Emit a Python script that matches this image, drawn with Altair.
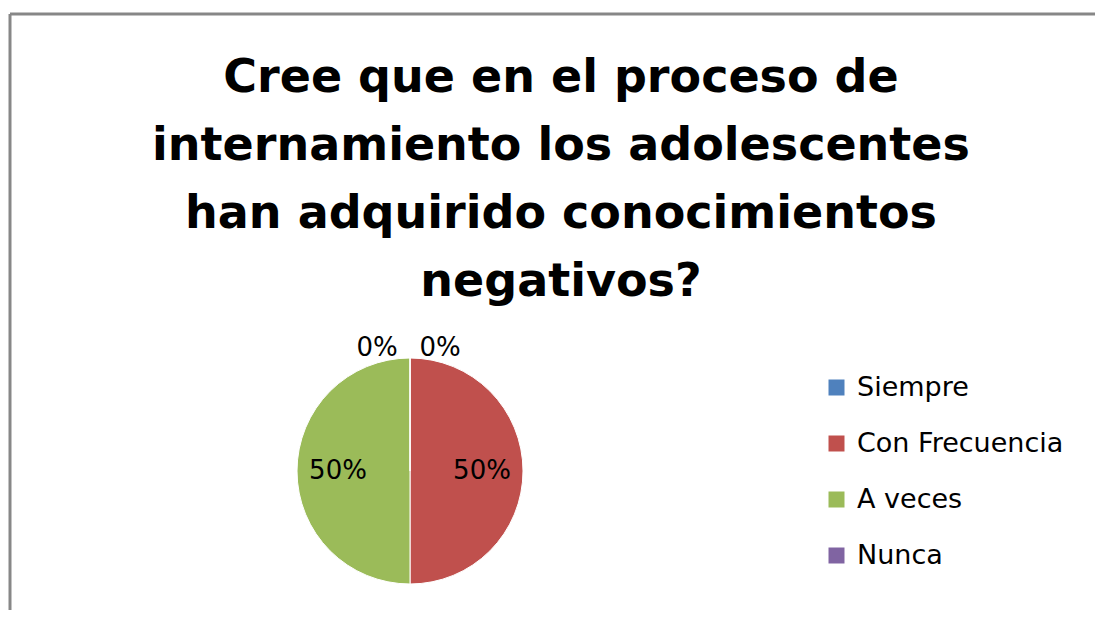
import altair as alt
import pandas as pd

categorias = ["Siempre", "Con Frecuencia", "A veces", "Nunca"]
valores = [0.0, 0.5, 0.5, 0.0]
orden = [1, 2, 3, 4]
colores = ["#4F81BD", "#C0504D", "#9BBB59", "#8064A2"]
titulo = [
    "Cree que en el proceso de",
    "internamiento los adolescentes",
    "han adquirido conocimientos",
    "negativos?",
]

df = pd.DataFrame({"categoria": categorias, "valor": valores, "orden": orden})
FONT = "DejaVu Sans"
CX, CY, R = 402, 463, 113

base = alt.Chart(df)

theta = alt.Theta("valor:Q", stack=True)
order = alt.Order("orden:Q")

pie = base.mark_arc(radius=R, stroke="white", strokeWidth=1).encode(
    theta=theta,
    order=order,
    color=alt.Color(
        "categoria:N",
        sort=None,
        scale=alt.Scale(domain=categorias, range=colores),
        legend=alt.Legend(
            title=None,
            orient="none",
            legendX=815,
            legendY=366,
            symbolType="square",
            symbolSize=256,
            symbolStrokeWidth=0,
            labelFontSize=27,
            labelFont=FONT,
            labelColor="#000000",
            labelOffset=7,
            labelLimit=400,
            rowPadding=28,
            padding=0,
        ),
    ),
    x=alt.value(CX),
    y=alt.value(CY),
)

lbl_main = base.transform_filter("datum.valor > 0").mark_text(
    radius=72, fontSize=26, font=FONT, color="#000000", align="center", baseline="middle"
).encode(
    theta=theta, order=order,
    text=alt.Text("valor:Q", format=".0%"),
    x=alt.value(CX), y=alt.value(CY),
)

lbl_siempre = base.transform_filter("datum.categoria == 'Siempre'").mark_text(
    radius=123, dx=30, fontSize=26, font=FONT, color="#000000", align="center", baseline="middle"
).encode(
    theta=theta, order=order,
    text=alt.Text("valor:Q", format=".0%"),
    x=alt.value(CX), y=alt.value(CY),
)

lbl_nunca = base.transform_filter("datum.categoria == 'Nunca'").mark_text(
    radius=123, dx=-33, fontSize=26, font=FONT, color="#000000", align="center", baseline="middle"
).encode(
    theta=theta, order=order,
    text=alt.Text("valor:Q", format=".0%"),
    x=alt.value(CX), y=alt.value(CY),
)

one = alt.Chart(pd.DataFrame({"d": [0]}))

title = one.mark_text(
    text=titulo, lineHeight=68, fontSize=46, fontWeight="bold", font=FONT,
    color="#000000", align="center", baseline="alphabetic",
).encode(x=alt.value(553), y=alt.value(84))

border_top = one.mark_rule(color="#878787", strokeWidth=3).encode(
    x=alt.value(2), x2=alt.value(1095), y=alt.value(6)
)
border_left = one.mark_rule(color="#878787", strokeWidth=3).encode(
    x=alt.value(2), y=alt.value(6), y2=alt.value(610)
)

chart = alt.layer(
    border_top, border_left, title, pie, lbl_main, lbl_siempre, lbl_nunca
).properties(
    width=1087, height=602,
    autosize=alt.AutoSizeParams(type="none"),
    padding=0,
    background="white",
).configure_view(stroke=None)

chart.save("out.html", embed_options={"renderer": "svg", "actions": False})
